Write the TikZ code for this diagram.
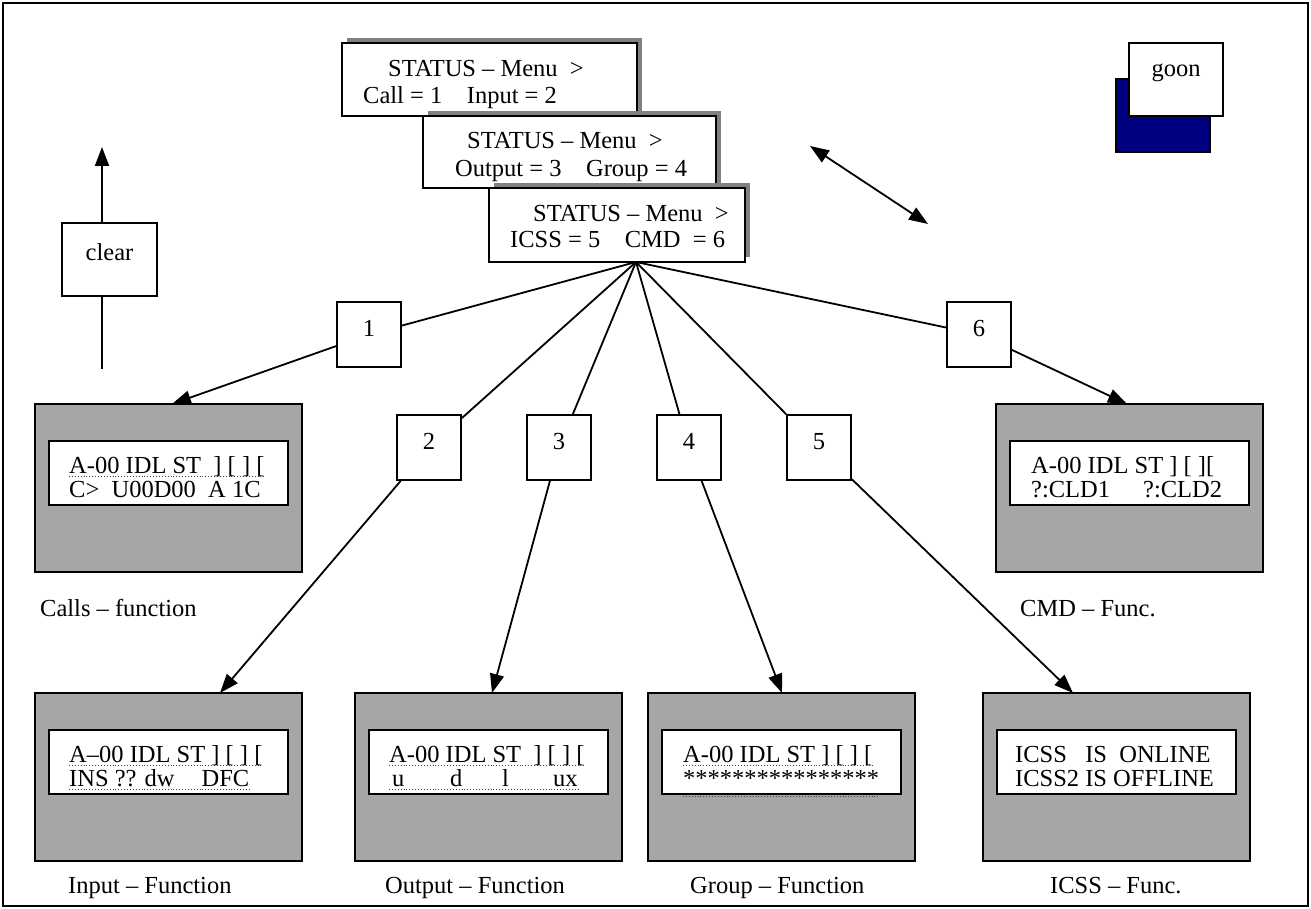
\documentclass[tikz,border=0pt]{standalone}
\usepackage{fontspec}
\setmainfont{Liberation Serif}
\usetikzlibrary{arrows.meta,calc}
\definecolor{lcdgray}{RGB}{166,166,166}
\definecolor{shadowgray}{RGB}{128,128,128}
\definecolor{navyblue}{RGB}{0,0,128}
\begin{document}
\begin{tikzpicture}[x=1pt,y=-1pt,
  every node/.style={font=\fontsize{24.5}{28}\selectfont},
  boxline/.style={draw=black, line width=1.8pt},
  menubox/.style={boxline, fill=white, inner sep=0pt},
  shadowbox/.style={fill=shadowgray, draw=none, inner sep=0pt},
  txt/.style={anchor=base west, inner sep=0pt},
  numbox/.style={boxline, fill=white, minimum width=64pt, minimum height=65pt, inner sep=0pt, text height=16pt, text depth=13pt},
  lcdouter/.style={boxline, fill=lcdgray, minimum width=267pt, minimum height=168pt, inner sep=0pt},
  lcdinner/.style={boxline, fill=white, minimum width=239pt, minimum height=64pt, inner sep=0pt},
  conn/.style={line width=1.8pt},
  arr/.style={conn, -{Triangle[length=19pt,width=14pt]}},
  darr/.style={conn, {Triangle[length=19pt,width=14pt]}-{Triangle[length=19pt,width=14pt]}},
  uline/.style={dotted, line width=0.9pt, black!75}
]
\useasboundingbox (0,0) rectangle (1311,909);
\draw[line width=1.2pt] (3,3) rectangle (1308,906);

% ---------- menu boxes ----------
\node[shadowbox, minimum width=295pt, minimum height=73pt] (s1) at (494.5,74.5) {};
\node[menubox, minimum width=295pt, minimum height=73pt] (m1) at (489.5,79.5) {};
\node[txt] (m1a) at (388,77) {STATUS – Menu \ >};
\node[txt] (m1b) at (363,104) {Call = 1 \ \ \ Input = 2};

\node[shadowbox, minimum width=293pt, minimum height=72pt] (s2) at (574.5,147) {};
\node[menubox, minimum width=293pt, minimum height=72pt] (m2) at (569.5,152) {};
\node[txt] (m2a) at (467,149) {STATUS – Menu \ >};
\node[txt] (m2b) at (455,177) {Output = 3 \ \ \ Group = 4};

\node[shadowbox, minimum width=256pt, minimum height=74pt] (s3) at (622,220) {};
\node[menubox, minimum width=256pt, minimum height=74pt] (m3) at (617,225) {};
\node[txt] (m3a) at (533,222) {STATUS – Menu \ >};
\node[txt] (m3b) at (510,248) {ICSS = 5 \ \ \ CMD \ = 6};

\coordinate (apex) at (636,262);

% ---------- goon ----------
\node[boxline, fill=navyblue, minimum width=94pt, minimum height=73pt, inner sep=0pt] (goonback) at (1163,115.5) {};
\node[boxline, fill=white, minimum width=94pt, minimum height=73pt, inner sep=0pt, text height=16pt, text depth=21pt] (goon) at (1176,79.5) {goon};

% ---------- double arrow ----------
\coordinate (d1) at (810,146);
\coordinate (d2) at (928,224);
\draw[darr] (d1) -- (d2);

% ---------- clear ----------
\coordinate (ltop) at (102,147);
\coordinate (lbot) at (102,369);
\node[boxline, fill=white, minimum width=95pt, minimum height=73pt, inner sep=0pt, text height=16pt, text depth=13pt] (clear) at (109.5,259.5) {clear};
\draw[conn] (lbot) -- (lbot |- clear.south);
\draw[arr] (lbot |- clear.north) -- (ltop);

% ---------- LCD boxes ----------
\node[lcdouter] (calls) at (168.5,488) {};
\node[lcdinner] (callsin) at (168.5,473) {};
\node[txt] (calls1) at (69,473) {A-00 IDL ST \ ] [ ] [};
\node[txt] (calls2) at (69,497) {C> \ U00D00 \ A 1C};
\node[txt] (callslbl) at (40,616) {Calls – function};

\node[lcdouter] (cmd) at (1129.5,488) {};
\node[lcdinner] (cmdin) at (1129.5,473) {};
\node[txt] (cmd1) at (1031,473) {A-00 IDL ST ] [ ][};
\node[txt] (cmd2) at (1031,497) {?:CLD1\hspace{33pt}?:CLD2};
\node[txt] (cmdlbl) at (1020,616) {CMD – Func.};

\node[lcdouter] (input) at (168.5,777) {};
\node[lcdinner] (inputin) at (168.5,762) {};
\node[txt] (input1) at (69,762) {A–00 IDL ST ] [ ] [};
\node[txt] (input2) at (69,786) {INS ?? dw\hspace{27pt}DFC};
\node[txt] (inputlbl) at (68,893) {Input – Function};

\node[lcdouter] (output) at (488.5,777) {};
\node[lcdinner] (outputin) at (488.5,762) {};
\node[txt] (output1) at (389,762) {A-00 IDL ST \ ] [ ] [};
\node[txt] (output2) at (392,786) {\rlap{u}\hspace{58pt}\rlap{d}\hspace{52pt}\rlap{l}\hspace{51pt}ux};
\node[txt] (outputlbl) at (385,893) {Output – Function};

\node[lcdouter] (group) at (781.5,777) {};
\node[lcdinner] (groupin) at (781.5,762) {};
\node[txt] (group1) at (683,762) {A-00 IDL ST ] [ ] [};
\node[txt] (group2) at (683,786) {****************};
\node[txt] (grouplbl) at (690,893) {Group – Function};

\node[lcdouter] (icss) at (1116.5,777) {};
\node[lcdinner] (icssin) at (1116.5,762) {};
\node[txt] (icss1) at (1015,762) {ICSS \ \ IS \ ONLINE};
\node[txt] (icss2) at (1015,786) {ICSS2 IS OFFLINE};
\node[txt] (icsslbl) at (1050,893) {ICSS – Func.};

% dotted underlines
\draw[uline] ($(calls1.base west)+(0,3)$) -- ($(calls1.base east)+(0,3)$);
\draw[uline] ($(input1.base west)+(0,3)$) -- ($(input1.base east)+(0,3)$);
\draw[uline] ($(input2.base west)+(0,3)$) -- ($(input2.base east)+(0,3)$);
\draw[uline] ($(output1.base west)+(0,3)$) -- ($(output1.base east)+(0,3)$);
\draw[uline] ($(output2.base west)+(-3,3)$) -- ($(output2.base east)+(0,3)$);
\draw[uline] ($(group1.base west)+(0,3)$) -- ($(group1.base east)+(0,3)$);
\draw[uline] ($(group2.base west)+(0,10)$) -- ($(group2.base east)+(0,10)$);

% ---------- arrow targets ----------
\coordinate (tcalls) at (172,404);
\coordinate (tcmd) at (1127,404);
\coordinate (tinput) at (220,693);
\coordinate (toutput) at (492,693);
\coordinate (tgroup) at (782,693);
\coordinate (ticss) at (1073,693);

% ---------- number boxes and connectors ----------
\node[numbox] (b1) at (369,334.5) {1};
\node[numbox] (b6) at (979,334.5) {6};
\node[numbox] (b2) at (429,447.5) {2};
\node[numbox] (b3) at (559,447.5) {3};
\node[numbox] (b4) at (689,447.5) {4};
\node[numbox] (b5) at (819,447.5) {5};

\draw[conn] (apex) -- (b1);
\draw[conn] (apex) -- (b2);
\draw[conn] (apex) -- (b3);
\draw[conn] (apex) -- (b4);
\draw[conn] (apex) -- (b5);
\draw[conn] (apex) -- (b6);

\draw[arr] (b1) -- (tcalls);
\draw[arr] (b6) -- (tcmd);
\draw[arr] (b2) -- (tinput);
\draw[arr] (b3) -- (toutput);
\draw[arr] (b4) -- (tgroup);
\draw[arr] (b5) -- (ticss);
\end{tikzpicture}
\end{document}
